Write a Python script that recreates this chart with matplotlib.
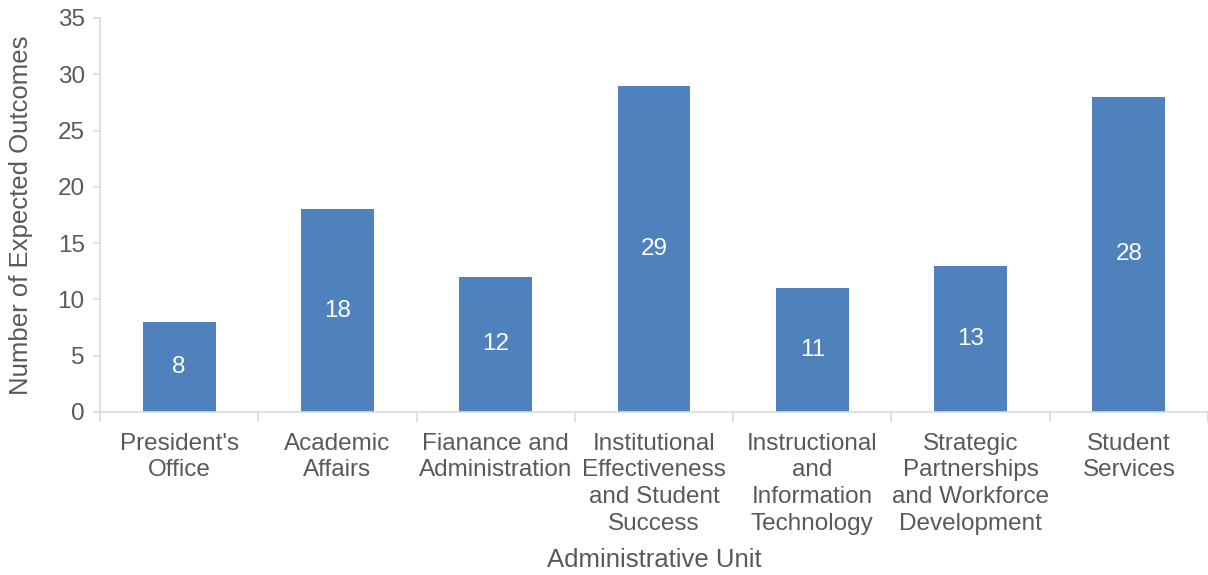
import matplotlib
matplotlib.use("Agg")
import matplotlib.pyplot as plt
import numpy as np

categories = [
    "President's\nOffice",
    "Academic\nAffairs",
    "Fianance and\nAdministration",
    "Institutional\nEffectiveness\nand Student\nSuccess",
    "Instructional\nand\nInformation\nTechnology",
    "Strategic\nPartnerships\nand Workforce\nDevelopment",
    "Student\nServices",
]
outcomes = [8, 18, 12, 29, 11, 13, 28]
y_ticks = [0, 5, 10, 15, 20, 25, 30, 35]

plt.rcParams['font.family'] = ['Liberation Sans', 'DejaVu Sans']
text_color = "#595959"
axis_color = "#d9d9d9"
bar_color = "#4F81BD"
fs = 17.5

fig = plt.figure(figsize=(12.08, 5.75), dpi=100)
ax = fig.add_axes([0.0828, 0.2835, 0.9172, 0.6852])

x = np.arange(len(categories))
ax.bar(x, outcomes, width=0.46, color=bar_color, zorder=2)

for xi, v in zip(x, outcomes):
    ax.text(xi, v / 2, str(v), ha="center", va="center", color="white", fontsize=fs)

ax.set_xlim(-0.5, len(categories) - 0.5)
ax.set_ylim(0, 35)
ax.set_yticks(y_ticks)
ax.tick_params(axis="y", length=5, color=axis_color, labelcolor=text_color,
               labelsize=fs, pad=6, width=1.2)

# category boundaries as tick marks, names on centered minor ticks
ax.set_xticks(np.arange(-0.5, len(categories)), labels=[""] * (len(categories) + 1))
ax.tick_params(axis="x", which="major", length=7, color=axis_color, width=1.2)
ax.set_xticks(x, labels=categories, minor=True)
ax.tick_params(axis="x", which="minor", length=0, labelcolor=text_color,
               labelsize=fs, pad=15)
for lbl in ax.get_xticklabels(minor=True):
    lbl.set_linespacing(1.27)
    lbl.set_verticalalignment("top")

for side in ["top", "right"]:
    ax.spines[side].set_visible(False)
for side in ["left", "bottom"]:
    ax.spines[side].set_color(axis_color)
    ax.spines[side].set_linewidth(1.2)

ax.set_ylabel("Number of Expected Outcomes", color=text_color, fontsize=fs + 1, labelpad=18)
ax.set_xlabel("Administrative Unit", color=text_color, fontsize=fs + 1, labelpad=10)

fig.savefig("out.png", dpi=100)
